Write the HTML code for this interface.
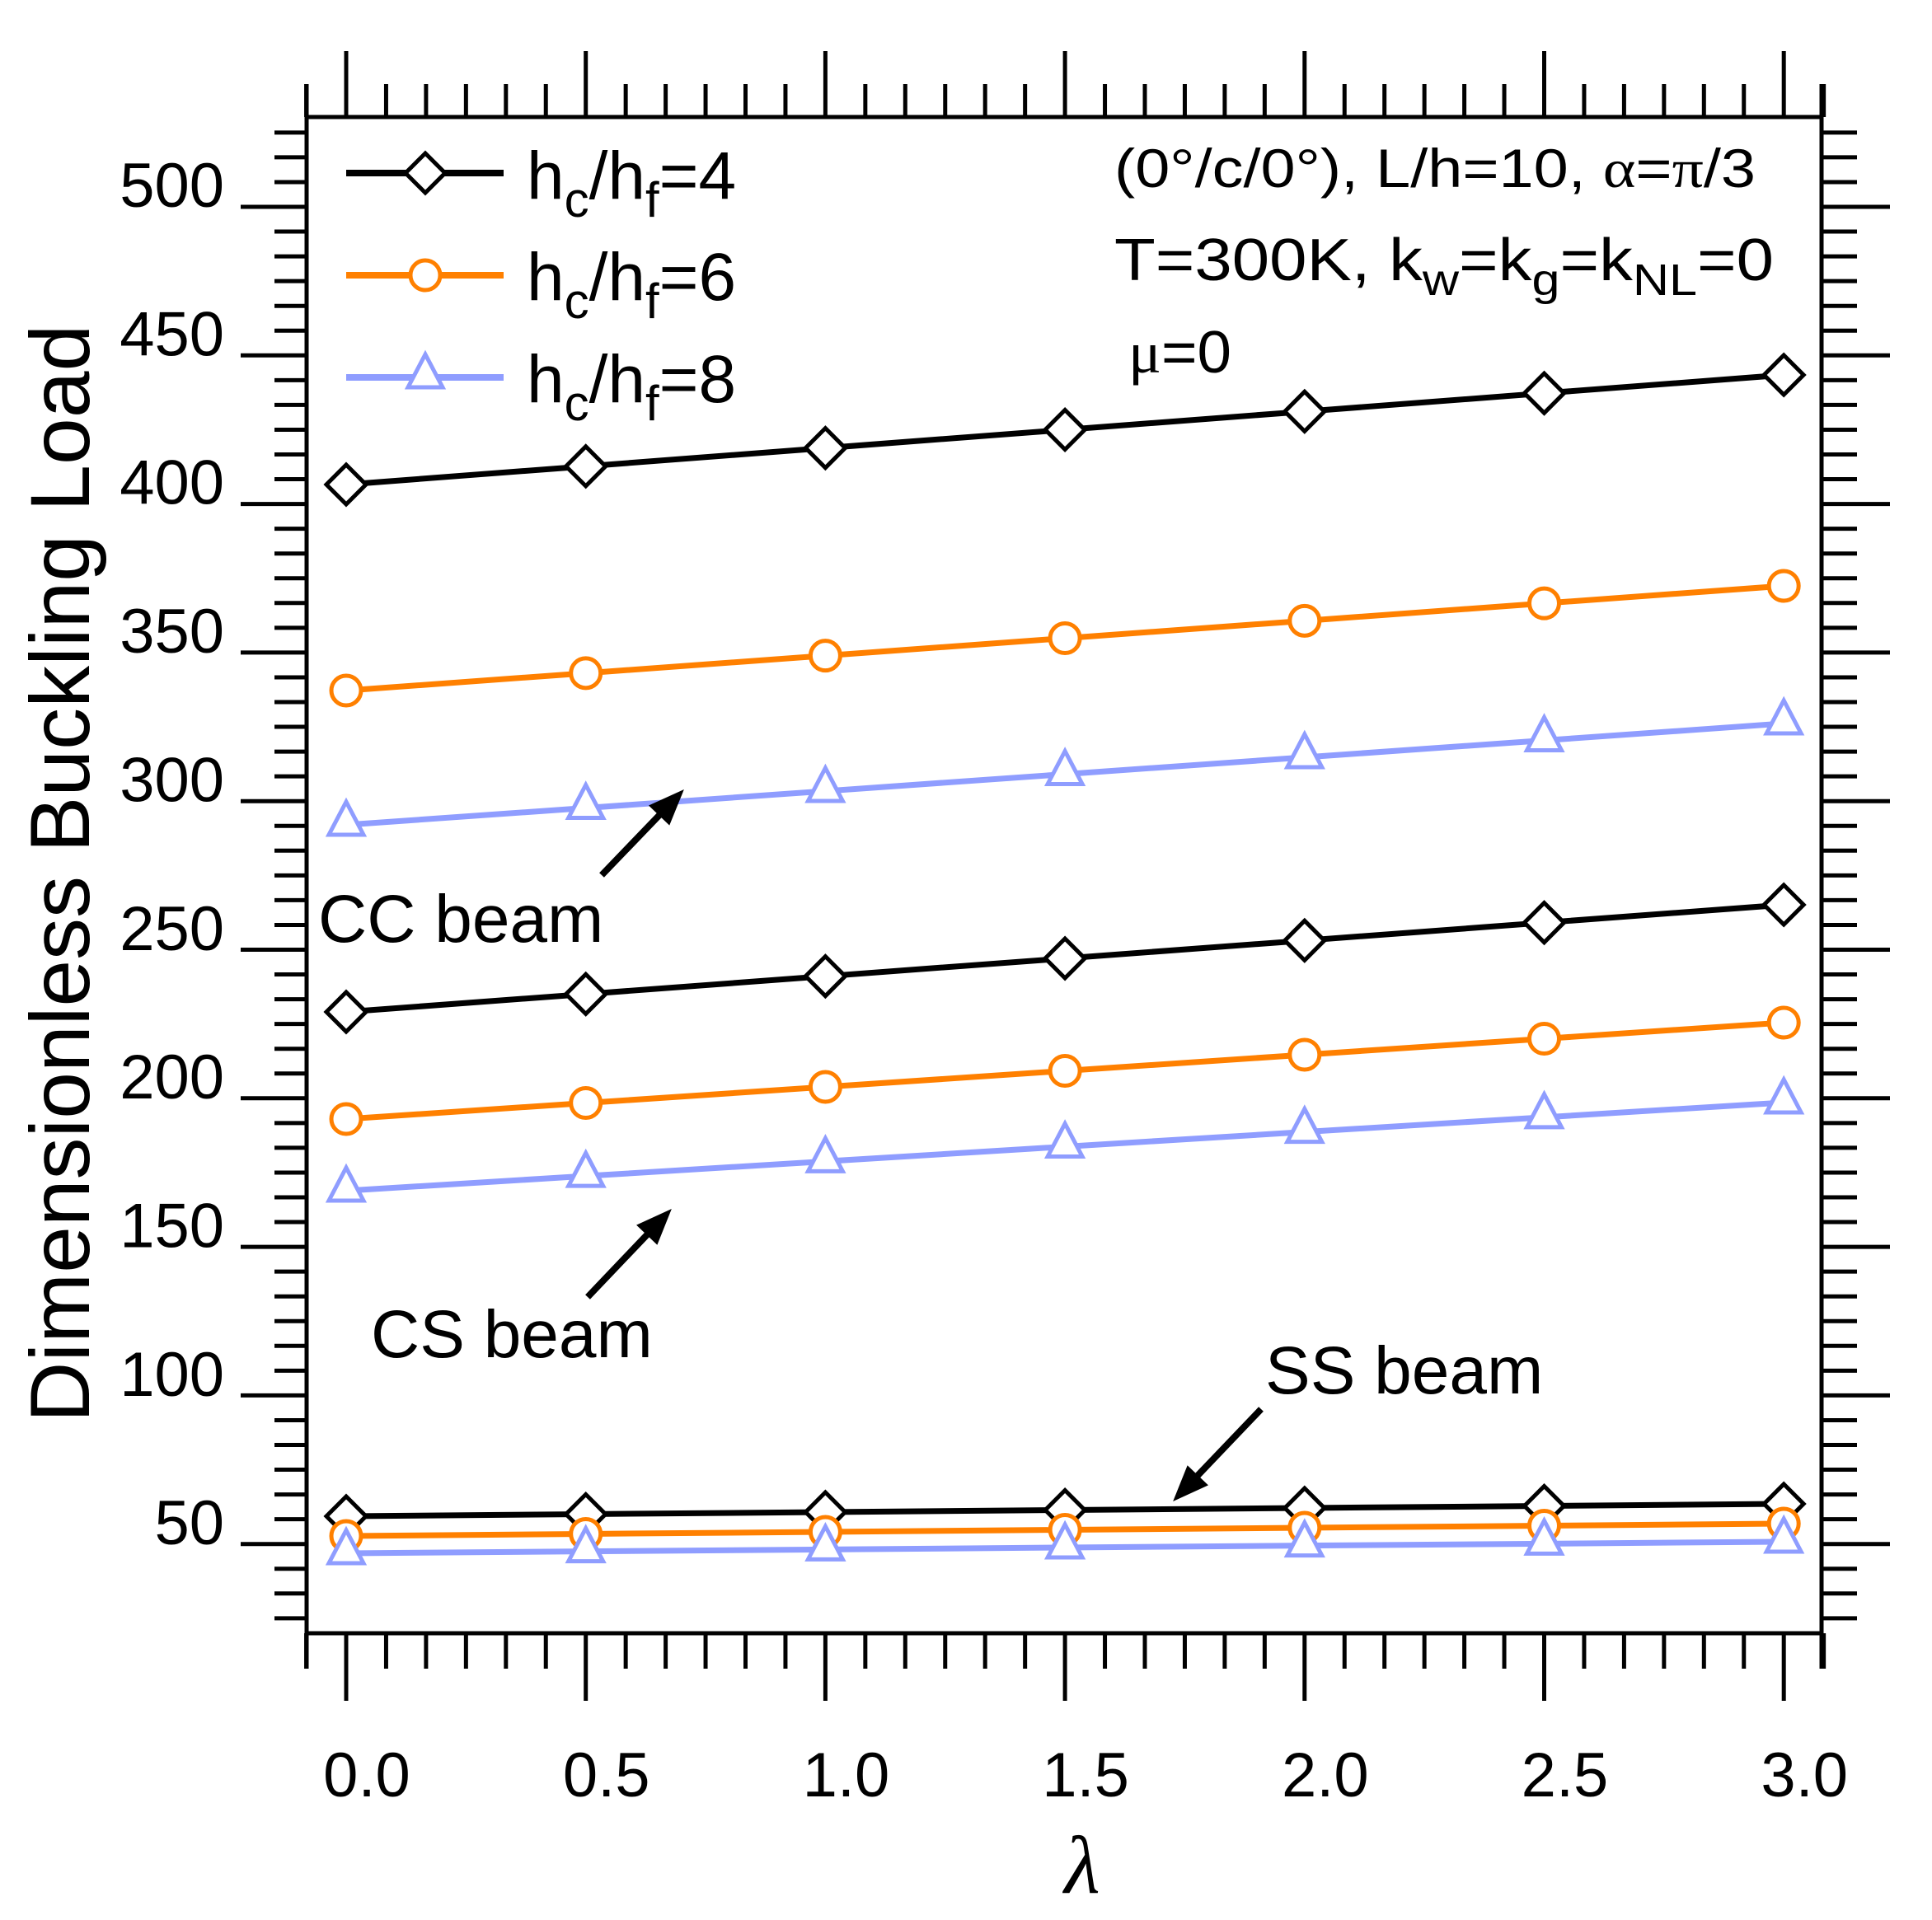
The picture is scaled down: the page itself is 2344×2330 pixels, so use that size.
<!DOCTYPE html>
<html><head><meta charset="utf-8"><style>html,body{margin:0;padding:0;background:#fff}svg{display:block}</style></head>
<body>
<svg xmlns="http://www.w3.org/2000/svg" width="2344" height="2330" viewBox="0 0 2344 2330" font-family="Liberation Sans, Arial, sans-serif">
<rect width="2344" height="2330" fill="#fff"/>
<g id="ticks" stroke="#000" stroke-width="5"></g>
<rect x="372" y="142" width="1838" height="1840" fill="none" stroke="#000" stroke-width="5"/>
<g id="series"></g>
<g id="labels" font-size="76" fill="#000"></g>
<!-- legend -->
<g font-size="82" fill="#000">
<text x="639" y="241">h<tspan font-size="60" dy="22">c</tspan><tspan dy="-22">/h</tspan><tspan font-size="60" dy="22">f</tspan><tspan dy="-22">=4</tspan></text>
<text x="639" y="364">h<tspan font-size="60" dy="22">c</tspan><tspan dy="-22">/h</tspan><tspan font-size="60" dy="22">f</tspan><tspan dy="-22">=6</tspan></text>
<text x="639" y="488">h<tspan font-size="60" dy="22">c</tspan><tspan dy="-22">/h</tspan><tspan font-size="60" dy="22">f</tspan><tspan dy="-22">=8</tspan></text>
</g>
<g fill="#000">
<text x="1352" y="227" font-size="66" textLength="778" lengthAdjust="spacingAndGlyphs">(0°/c/0°), L/h=10, <tspan font-family="Liberation Serif, serif">α</tspan>=<tspan font-family="Liberation Serif, serif">π</tspan>/3</text>
<text x="1352" y="340" font-size="72" textLength="800" lengthAdjust="spacingAndGlyphs">T=300K,  k<tspan font-size="54" dy="18">w</tspan><tspan dy="-18">=k</tspan><tspan font-size="54" dy="18">g</tspan><tspan dy="-18">=k</tspan><tspan font-size="54" dy="18">NL</tspan><tspan dy="-18">=0</tspan></text>
<text x="1369" y="452" font-size="72" textLength="125" lengthAdjust="spacingAndGlyphs"><tspan font-family="Liberation Serif, serif">μ</tspan>=0</text>
</g>
<g font-size="82" fill="#000">
<text x="386" y="1143">CC beam</text>
<text x="450" y="1647">CS beam</text>
<text x="1535" y="1691">SS beam</text>
</g>
<text transform="translate(108,1060) rotate(-90)" text-anchor="middle" font-size="102" fill="#000">Dimensionless Buckling Load</text>
<text x="1313" y="2297" text-anchor="middle" font-size="100" font-style="italic" font-family="Liberation Serif, serif" fill="#000">λ</text>
<g id="arrows" fill="#000" stroke="#000"></g>
<script>
var NS="http://www.w3.org/2000/svg";
function el(p,t,a){var e=document.createElementNS(NS,t);for(var k in a)e.setAttribute(k,a[k]);p.appendChild(e);return e;}
var T=document.getElementById('ticks');
function ln(x1,y1,x2,y2){el(T,'line',{x1:x1,y1:y1,x2:x2,y2:y2});}
for(var k=-3;k<=61;k++){var y=251+k*30.05;if(y<150||y>1978)continue;var maj=(k%6===0);
 ln(maj?292:333,y,372,y);ln(2210,y,maj?2293:2253,y);}
for(var m=-1;m<=40;m++){var x=420+m*48.45;if(x<370||x>2214)continue;var maj=(m%6===0);
 ln(x,142,x,maj?62:102);ln(x,1982,x,maj?2064:2025);}
ln(372,1982,372,2025);ln(2210,1982,2210,2025);ln(372,142,372,102);ln(2210,142,2210,102);
var L=document.getElementById('labels');
var vals=[500,450,400,350,300,250,200,150,100,50];
vals.forEach(function(v){var y=251+(500-v)*3.607;var t=el(L,'text',{x:272,y:y,'text-anchor':'end'});t.textContent=v;});
for(var i=0;i<=6;i++){var t=el(L,'text',{x:420+i*290.7+25,y:2180,'text-anchor':'middle'});t.textContent=(i*0.5).toFixed(1);}
var S=document.getElementById('series');
var BL='#000',OR='#FF8000',BU='#8F9DFF';
var data=[[588,455,BL,'d'],[838,711,OR,'c'],[1001,878,BU,'t'],[1228,1098,BL,'d'],[1358,1241,OR,'c'],[1445,1338,BU,'t'],[1840,1825,BL,'d'],[1864,1849,OR,'c'],[1885,1871,BU,'t']];
function marker(x,y,c,type){
 if(type==='d')el(S,'polygon',{points:(x-24)+','+y+' '+x+','+(y-24)+' '+(x+24)+','+y+' '+x+','+(y+24),fill:'#fff',stroke:c,'stroke-width':5});
 else if(type==='c')el(S,'circle',{cx:x,cy:y,r:18,fill:'#fff',stroke:c,'stroke-width':5});
 else el(S,'polygon',{points:x+','+(y-28)+' '+(x+21)+','+(y+12)+' '+(x-21)+','+(y+12),fill:'#fff',stroke:c,'stroke-width':5,'stroke-linejoin':'miter'});
}
data.forEach(function(d){var pts=[];for(var i=0;i<=6;i++)pts.push((420+i*290.7)+','+(d[0]+(d[1]-d[0])*i/6));
 el(S,'polyline',{points:pts.join(' '),fill:'none',stroke:d[2],'stroke-width':7});});
data.forEach(function(d){for(var i=0;i<=6;i++)marker(420+i*290.7,d[0]+(d[1]-d[0])*i/6,d[2],d[3]);});
[[210,BL,'d'],[334,OR,'c'],[458,BU,'t']].forEach(function(l){el(S,'line',{x1:420,y1:l[0],x2:611,y2:l[0],stroke:l[1],'stroke-width':8});marker(516,l[0],l[1],l[2]);});
var A=document.getElementById('arrows');
function arrow(x1,y1,x2,y2){var dx=x2-x1,dy=y2-y1,len=Math.sqrt(dx*dx+dy*dy),ux=dx/len,uy=dy/len,hl=40,hw=16;
 var bx=x2-ux*hl,by=y2-uy*hl;
 el(A,'line',{x1:x1,y1:y1,x2:bx,y2:by,'stroke-width':8});
 el(A,'polygon',{points:x2+','+y2+' '+(bx-uy*hw)+','+(by+ux*hw)+' '+(bx+uy*hw)+','+(by-ux*hw),'stroke-width':2});}
arrow(730,1062,828,960);arrow(713,1574,813,1469);arrow(1530,1710,1425,1820);
</script>
</svg>
</body></html>
